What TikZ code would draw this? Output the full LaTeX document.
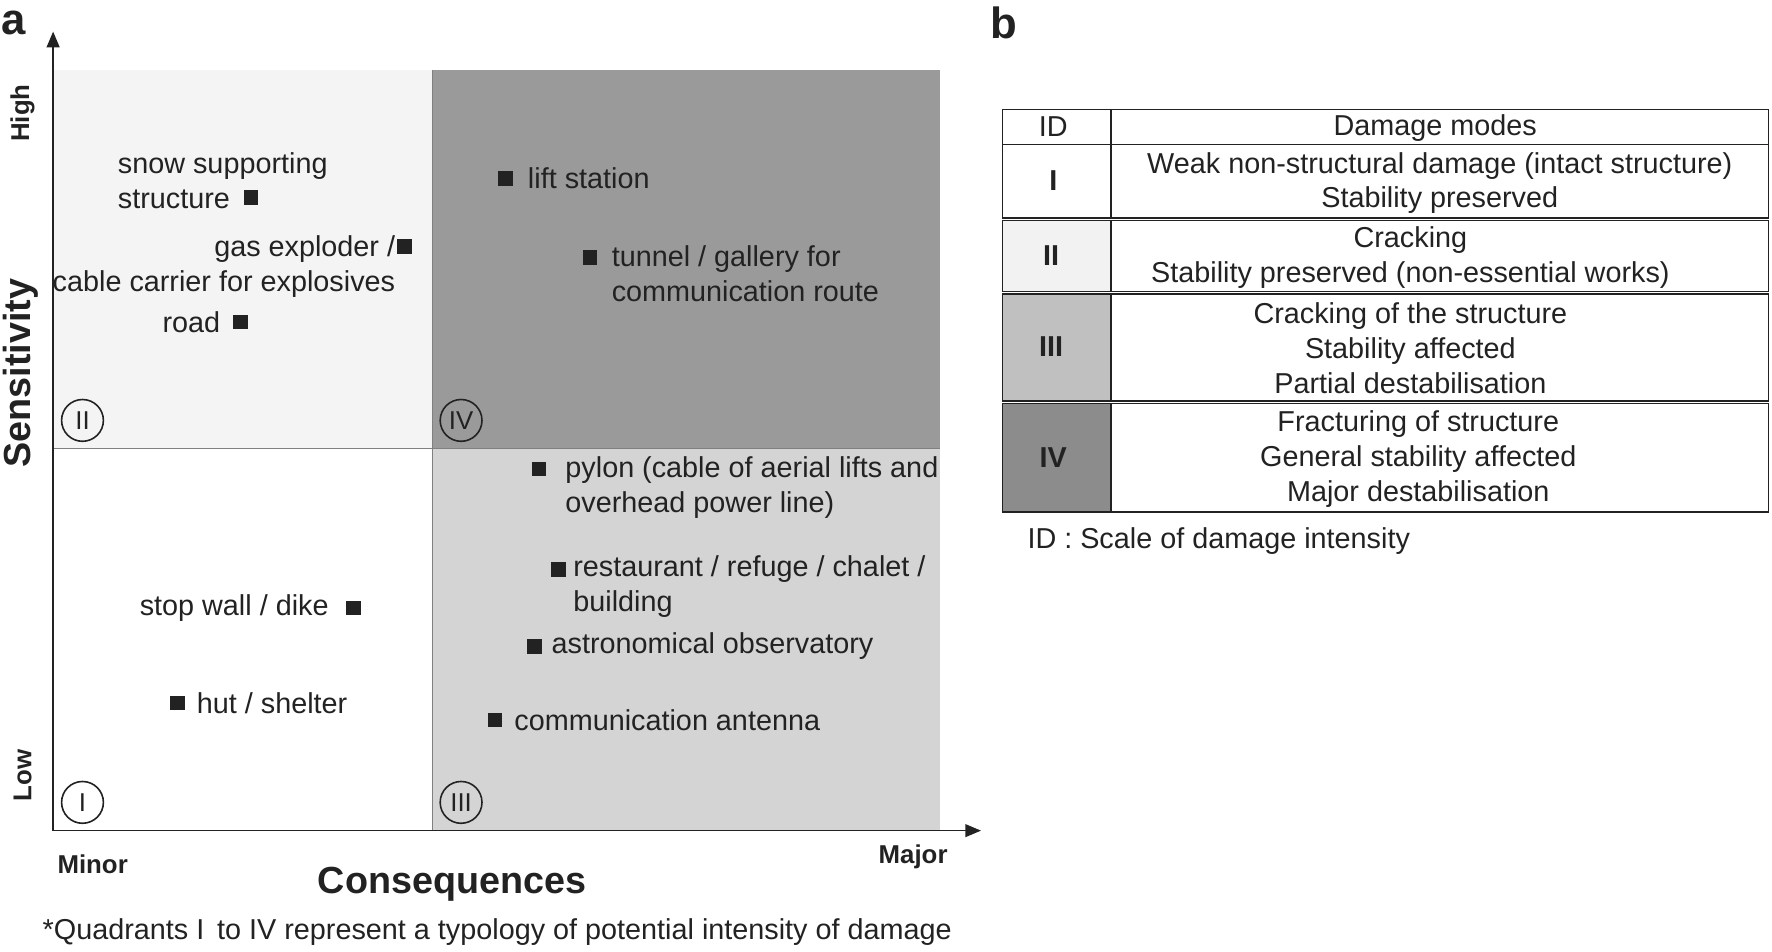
\documentclass[tikz,border=0pt]{standalone}
\usepackage{fontspec}
\setmainfont{Liberation Sans}
\usetikzlibrary{positioning, arrows}
\definecolor{qtwo}{HTML}{F4F4F4}
\definecolor{qfour}{HTML}{9A9A9A}
\definecolor{qthree}{HTML}{D4D4D4}
\definecolor{rtwo}{HTML}{F2F2F2}
\definecolor{rthree}{HTML}{C0C0C0}
\definecolor{rfour}{HTML}{8C8C8C}
\definecolor{ink}{HTML}{222222}

\begin{document}
\begin{tikzpicture}[x=0.02cm, y=-0.02cm, node distance=0.3cm,
    every node/.style={font=\fontsize{14.5}{17.6}\selectfont, text=ink},
    sq/.style={fill=ink, minimum size=0.26cm, inner sep=0},
    item/.style={inner sep=0, align=left},
    quad/.style={circle, draw=ink, thick, minimum size=0.74cm, inner sep=0, font=\fontsize{13}{14}\selectfont},
    axlab/.style={font=\bfseries\fontsize{13}{15}\selectfont},
    cell/.style={draw=ink, thick}]
    % Frame
    \useasboundingbox (0,0) rectangle (1568,842);

    % Quadrants
    \fill[qtwo] (47,62) rectangle (383,397);
    \fill[qfour] (383,62) rectangle (832,397);
    \fill[qthree] (383,397) rectangle (832,735);
    \draw[gray] (383,62) -- (383,735);
    \draw[gray] (47,397) -- (832,397);

    % Axes
    \coordinate (origin) at (47,735);
    \coordinate (ytop) at (47,28);
    \coordinate (xend) at (868,735);
    \draw[ink, thick, -triangle 45] (origin) -- (ytop);
    \draw[ink, thick, -triangle 45] (origin) -- (xend);
    \node[axlab, rotate=90] (high) at (20,100) {High};
    \node[axlab, rotate=90] (low) at (20,686) {Low};
    \node[rotate=90, font=\bfseries\fontsize{19}{22}\selectfont] (sens) at (18,330) {Sensitivity};
    \node[axlab] (minor) at (82,765) {Minor};
    \node[axlab] (major) at (808,758) {Major};
    \node[font=\bfseries\fontsize{19}{22}\selectfont] (cons) at (400,782) {Consequences};
    \node (note) at (440,825) {*Quadrants I\, to IV represent a typology of potential intensity of damage};
    \node[font=\bfseries\fontsize{22}{24}\selectfont] (pa) at (12,20) {a};
    \node[font=\bfseries\fontsize{22}{24}\selectfont] (pb) at (888,20) {b};

    % Quadrant marks
    \node[quad] (qII) at (73,372) {II};
    \node[quad] (qIV) at (408,372) {IV};
    \node[quad] (qI) at (73,710) {I};
    \node[quad] (qIII) at (408,710) {III};

    % Items
    \node[sq] (snow) at (222,175) {};
    \node[item, anchor=north west] (snowt) at (104,135) {snow supporting\\structure};
    \node[sq] (gas) at (358,218) {};
    \node[item, align=right, anchor=east] (gast) at (350,236) {gas exploder /\\cable carrier for explosives};
    \node[sq] (road) at (213,285) {};
    \node[item, left=0.22cm of road] (roadt) {road};
    \node[sq] (lift) at (447,158) {};
    \node[item, right=0.26cm of lift] (liftt) {lift station};
    \node[sq] (tunnel) at (522,228) {};
    \node[item, anchor=north west] (tunnelt) at (541,217) {tunnel / gallery for\\communication route};
    \node[sq] (pylon) at (477,415) {};
    \node[item, anchor=north west] (pylont) at (500,404) {pylon (cable of aerial lifts and\\overhead power line)};
    \node[sq] (rest) at (494,504) {};
    \node[item, anchor=north west] (restt) at (507,491) {restaurant / refuge / chalet /\\building};
    \node[sq] (astro) at (473,572) {};
    \node[item, right=0.16cm of astro] (astrot) {astronomical observatory};
    \node[sq] (antenna) at (438,637) {};
    \node[item, right=0.2cm of antenna] (antennat) {communication antenna};
    \node[sq] (stop) at (313,538) {};
    \node[item, left=0.3cm of stop] (stopt) {stop wall / dike};
    \node[sq] (hut) at (157,622) {};
    \node[item, right=0.2cm of hut] (hutt) {hut / shelter};

    % Table
    \draw[cell] (887,97) rectangle (1565,128);
    \draw[cell] (887,128) rectangle (1565,193);
    \draw[cell, fill=rtwo] (887,195) rectangle (983,258);
    \draw[cell] (983,195) rectangle (1565,258);
    \draw[cell, fill=rthree] (887,260) rectangle (983,355);
    \draw[cell] (983,260) rectangle (1565,355);
    \draw[cell, fill=rfour] (887,357) rectangle (983,453);
    \draw[cell] (983,357) rectangle (1565,453);
    \draw[cell] (983,97) -- (983,193);
    \node (hid) at (932,112) {ID};
    \node (hdm) at (1270,113) {Damage modes};
    \node[font=\bfseries\fontsize{14.5}{17.6}\selectfont] (rI) at (932,160) {I};
    \node[align=center] (mI) at (1274,162) {Weak non-structural damage (intact structure)\\Stability preserved};
    \node[font=\bfseries\fontsize{14.5}{17.6}\selectfont] (rII) at (930,226) {II};
    \node[align=center] (mII) at (1248,228) {Cracking\\Stability preserved (non-essential works)};
    \node[font=\bfseries\fontsize{14.5}{17.6}\selectfont] (rIII) at (930,307) {III};
    \node[align=center] (mIII) at (1248,308) {Cracking of the structure\\Stability affected\\Partial destabilisation};
    \node[font=\bfseries\fontsize{14.5}{17.6}\selectfont] (rIV) at (932,405) {IV};
    \node[align=center] (mIV) at (1255,406) {Fracturing of structure\\General stability affected\\Major destabilisation};
    \node[anchor=west] (cap) at (903,479) {ID : Scale of damage intensity};
\end{tikzpicture}
\end{document}
